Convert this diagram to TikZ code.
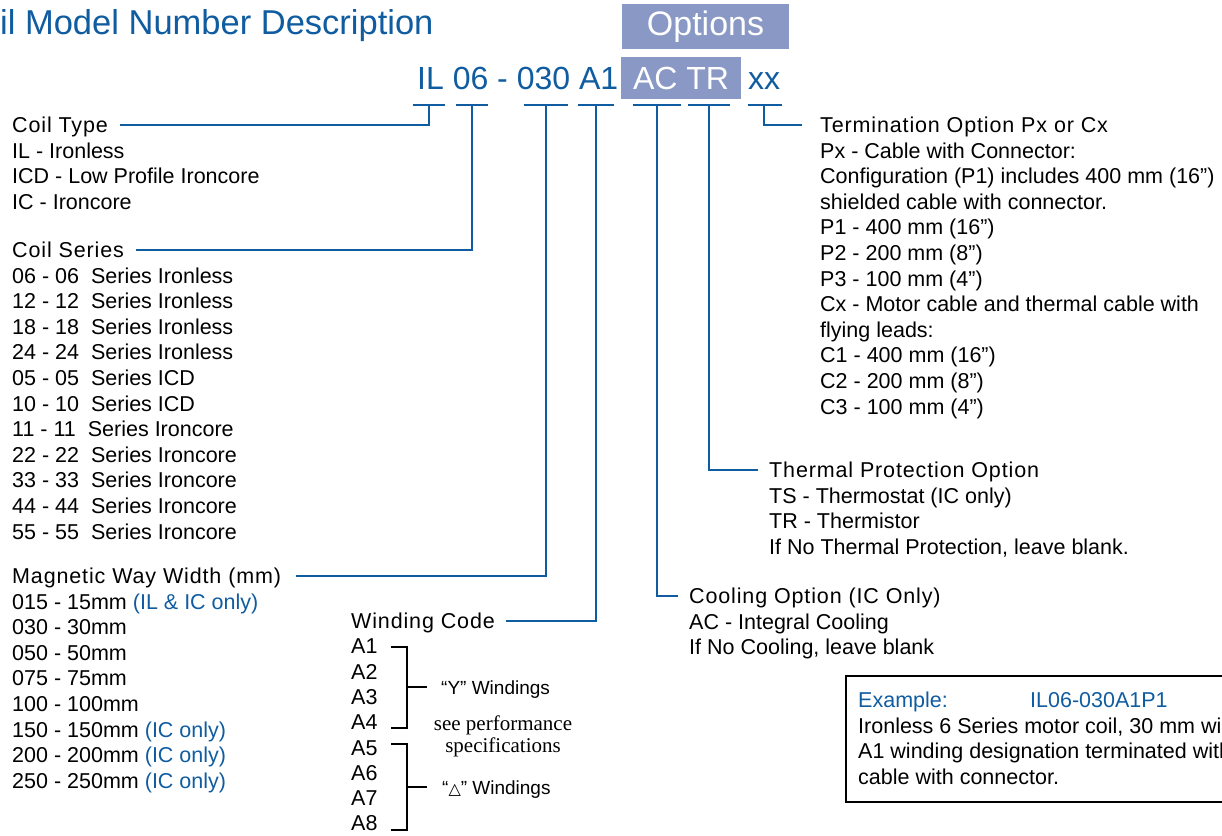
\documentclass[tikz,border=0pt]{standalone}
\usepackage{fontspec}
\setmainfont{Liberation Sans}
\newfontfamily\timesface{Liberation Serif}
\newfontfamily\symbface{DejaVu Sans}
\usetikzlibrary{positioning}

\definecolor{codeblue}{RGB}{16,92,160}
\definecolor{optfill}{RGB}{137,152,196}

\tikzset{
  txt/.style={inner sep=0pt, anchor=west, text height=15pt, text depth=0pt,
    font=\fontsize{21.5}{25}\selectfont},
  head/.style={txt, font=\fontsize{21.5}{25}\selectfont\addfontfeatures{LetterSpace=4}},
  bignum/.style={txt, text height=23pt, font=\fontsize{32}{38}\selectfont},
  lead/.style={draw=codeblue, line width=2.4pt},
  brk/.style={draw=black, line width=2pt},
  optbox/.style={fill=optfill, text=white, inner sep=0pt},
}

\begin{document}
\begin{tikzpicture}[x=1pt, y=-1pt]
  \useasboundingbox (0,0) rectangle (1222,835);
  \clip (0,0) rectangle (1222,835);

  % title and code
  \node[txt, text height=25pt, text=codeblue, font=\fontsize{34.5}{40}\selectfont] (title) at (0,22) {il Model Number Description};
  \node[optbox, minimum width=167pt, minimum height=45pt, font=\fontsize{34}{40}\selectfont] (opts) at (705.5,26.5) {Options};
  \node[bignum, text=codeblue] (mnum) at (417,77.5) {IL 06 - 030 A1};
  \node[optbox, minimum width=120pt, minimum height=42pt, font=\fontsize{32}{38}\selectfont] (mopt) at (681,78) {AC TR};
  \node[bignum, text=codeblue] (mxx) at (748,77.5) {xx};

  \coordinate (tIL) at (429,105);
  \coordinate (t06) at (472,105);
  \coordinate (t030) at (546,105);
  \coordinate (tA1) at (596,105);
  \coordinate (tAC) at (657,105);
  \coordinate (tTR) at (709,105);
  \coordinate (txx) at (764,105);
  \foreach \c/\w in {tIL/16, t06/16, t030/22, tA1/18, tAC/24, tTR/21}
    \draw[lead] ([xshift=-\w pt]\c) -- ([xshift=\w pt]\c);
  \draw[lead] ([xshift=-16pt]txx) -- ([xshift=18pt]txx);

  % coil type
  \node[head] (ctype) at (12,125) {Coil Type};
  \foreach \t [count=\i] in {IL - Ironless, ICD - Low Profile Ironcore, IC - Ironcore}
    \node[txt] (ctype\i) at (12,125+25.5*\i) {\t};

  % coil series
  \node[head] (cser) at (12,250) {Coil Series};
  \foreach \t [count=\i] in {06 - 06\ \ Series Ironless, 12 - 12\ \ Series Ironless,
      18 - 18\ \ Series Ironless, 24 - 24\ \ Series Ironless, 05 - 05\ \ Series ICD,
      10 - 10\ \ Series ICD, 11 - 11\ \ Series Ironcore, 22 - 22\ \ Series Ironcore,
      33 - 33\ \ Series Ironcore, 44 - 44\ \ Series Ironcore, 55 - 55\ \ Series Ironcore}
    \node[txt] (cser\i) at (12,250+25.6*\i) {\t};

  % magnetic way
  \node[head] (mww) at (12,576) {Magnetic Way Width (mm)};
  \foreach \t [count=\i] in {{015 - 15mm \textcolor{codeblue}{(IL \& IC only)}}, 030 - 30mm,
      050 - 50mm, 075 - 75mm, 100 - 100mm, {150 - 150mm \textcolor{codeblue}{(IC only)}},
      {200 - 200mm \textcolor{codeblue}{(IC only)}}, {250 - 250mm \textcolor{codeblue}{(IC only)}}}
    \node[txt] (mww\i) at (12,576+25.6*\i) {\t};

  % winding code
  \node[head] (wcode) at (351,621) {Winding Code};
  \foreach \i in {1,...,8}
    \node[txt] (wa\i) at (351,621+25.3*\i) {A\i};
  \draw[brk] (391,647) -| (407,728) -- (391,728);
  \draw[brk] (391,744) -| (407,830) -- (391,830);
  \node[txt, font=\fontsize{19}{22}\selectfont] (ywind) at (441,687) {“Y” Windings};
  \node[txt, font=\fontsize{19}{22}\selectfont] (dwind) at (442,787) {“{\symbface\fontsize{16}{16}\selectfont △}” Windings};
  \node[inner sep=0pt, align=center, font=\timesface\fontsize{21}{22}\selectfont] (perf) at (503,736) {see performance\\specifications};
  \draw[brk] (407,687) -- ([xshift=-14pt]ywind.west);
  \draw[brk] (407,787) -- ([xshift=-15pt]dwind.west);

  % cooling
  \node[head] (cool) at (689,596) {Cooling Option (IC Only)};
  \foreach \t [count=\i] in {AC - Integral Cooling, {If No Cooling, leave blank}}
    \node[txt] (cool\i) at (689,596+25.5*\i) {\t};

  % thermal
  \node[head] (therm) at (769,470) {Thermal Protection Option};
  \foreach \t [count=\i] in {TS - Thermostat (IC only), TR - Thermistor,
      {If No Thermal Protection, leave blank.}}
    \node[txt] (therm\i) at (769,470+25.5*\i) {\t};

  % termination
  \node[head] (term) at (820,125) {Termination Option Px or Cx};
  \foreach \t [count=\i] in {Px - Cable with Connector:, Configuration (P1) includes 400 mm (16”),
      shielded cable with connector., P1 - 400 mm (16”), P2 - 200 mm (8”), P3 - 100 mm (4”),
      Cx - Motor cable and thermal cable with, flying leads:, C1 - 400 mm (16”),
      C2 - 200 mm (8”), C3 - 100 mm (4”)}
    \node[txt] (term\i) at (820,125+25.6*\i) {\t};

  % leaders
  \draw[lead] ([xshift=12pt]ctype.east) -| (tIL);
  \draw[lead] ([xshift=12pt]cser.east) -| (t06);
  \draw[lead] ([xshift=15pt]mww.east) -| (t030);
  \draw[lead] ([xshift=11pt]wcode.east) -| (tA1);
  \draw[lead] (tAC) |- ([xshift=-11pt]cool.west);
  \draw[lead] (tTR) |- ([xshift=-11pt]therm.west);
  \draw[lead] (txx) |- ([xshift=-18pt]term.west);

  % example
  \node[draw=black, line width=2pt, anchor=north west, minimum width=420pt, minimum height=126pt, inner sep=0pt] (exbox) at (845,675) {};
  \node[txt, text=codeblue] (ex1) at (858,700) {Example:};
  \node[txt, text=codeblue] (ex2) at (1030,700) {IL06-030A1P1};
  \node[txt] (ex3) at (858,725.5) {Ironless 6 Series motor coil, 30 mm wide};
  \node[txt] (ex4) at (858,751) {A1 winding designation terminated with};
  \node[txt] (ex5) at (858,777) {cable with connector.};
\end{tikzpicture}
\end{document}
